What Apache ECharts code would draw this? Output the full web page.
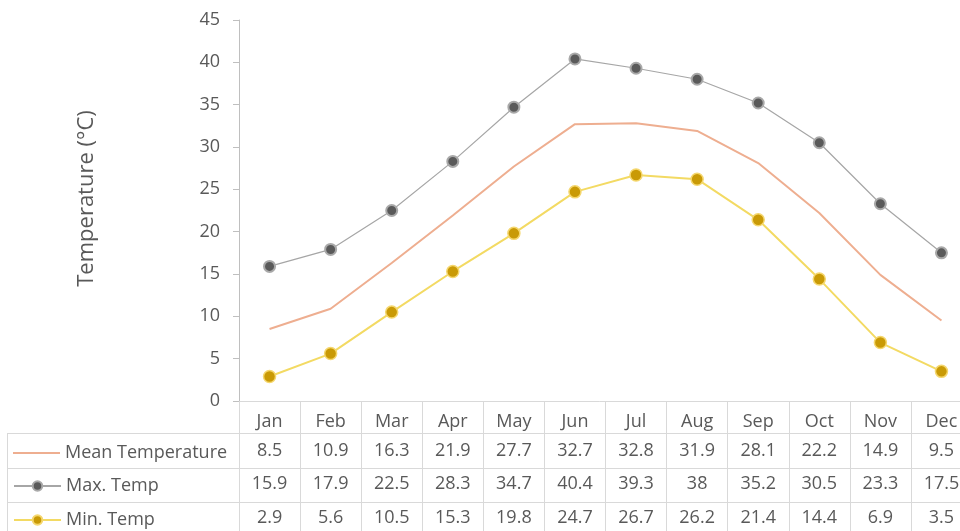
<!DOCTYPE html>
<html><head><meta charset="utf-8">
<script src="https://cdn.jsdelivr.net/npm/echarts@6/dist/echarts.min.js"></script>
<style>html,body{margin:0;padding:0;background:#fff}#c{width:960px;height:531px}</style>
</head><body><div id="c"></div>
<script>
const months = ['Jan','Feb','Mar','Apr','May','Jun','Jul','Aug','Sep','Oct','Nov','Dec'];
const meanTemp = [8.5,10.9,16.3,21.9,27.7,32.7,32.8,31.9,28.1,22.2,14.9,9.5];
const maxTemp = [15.9,17.9,22.5,28.3,34.7,40.4,39.3,38,35.2,30.5,23.3,17.5];
const minTemp = [2.9,5.6,10.5,15.3,19.8,24.7,26.7,26.2,21.4,14.4,6.9,3.5];
const seriesNames = ['Mean Temperature','Max. Temp','Min. Temp'];

const FONT = 'Open Sans';
const TXT = '#595959';
const GRID_LINE = '#d9d9d9';
const TFS = 18;

function rowAxis(values, offset){
  return {
    type:'category', gridIndex:0, position:'bottom', offset:offset,
    data: values.map(v=>String(v)),
    axisLine:{show:false}, axisTick:{show:false},
    axisLabel:{color:TXT, fontSize:TFS, fontFamily:FONT, margin:9, interval:0}
  };
}
function legendRow(name, top, extra){
  return Object.assign({
    orient:'horizontal', left:8, top:top, itemWidth:47, itemHeight:12,
    textStyle:{color:TXT, fontSize:TFS, fontFamily:FONT},
    data:[name], selectedMode:false
  }, extra||{});
}

const chart = echarts.init(document.getElementById('c'));
const hl = (y)=>({type:'line', shape:{x1:7,y1:y,x2:975,y2:y}, style:{stroke:GRID_LINE, lineWidth:1}, silent:true});
chart.setOption({
  animation:false,
  grid:{left:239, top:20, width:733, height:381, containLabel:false, outerBoundsMode:'none'},
  legend:[
    legendRow(seriesNames[0], 439, {data:[{name:seriesNames[0], icon:'rect'}], itemHeight:2}),
    legendRow(seriesNames[1], 472),
    legendRow(seriesNames[2], 506)
  ],
  xAxis:[
    {
      type:'category', data:months, boundaryGap:true,
      axisLine:{show:true, lineStyle:{color:GRID_LINE}},
      axisTick:{show:true, length:135, lineStyle:{color:GRID_LINE}},
      axisLabel:{color:TXT, fontSize:TFS, fontFamily:FONT, margin:12, interval:0}
    },
    rowAxis(meanTemp, 32),
    rowAxis(maxTemp, 65),
    rowAxis(minTemp, 99)
  ],
  yAxis:{
    type:'value', min:0, max:45, interval:5,
    name:'Temperature (°C)', nameLocation:'middle', nameRotate:90, nameGap:141,
    nameTextStyle:{color:TXT, fontSize:22, fontFamily:FONT, padding:[0,0,0,24]},
    axisLine:{show:true, lineStyle:{color:'#bfbfbf'}},
    axisTick:{show:true, length:6, lineStyle:{color:'#bfbfbf'}},
    axisLabel:{color:TXT, fontSize:18, fontFamily:FONT, margin:19},
    splitLine:{show:false}
  },
  graphic:[
    hl(433.5), hl(468.5), hl(502.5),
    {type:'line', shape:{x1:7.5,y1:433,x2:7.5,y2:531}, style:{stroke:GRID_LINE, lineWidth:1}, silent:true}
  ],
  series:[
    {name:seriesNames[0], type:'line', data:meanTemp, symbol:'none',
     lineStyle:{color:'#eeae90', width:2}, itemStyle:{color:'#eeae90'}},
    {name:seriesNames[1], type:'line', data:maxTemp, symbol:'circle', symbolSize:11,
     lineStyle:{color:'#a6a6a6', width:1.2},
     itemStyle:{color:'#5a5a5a', borderColor:'#a9a9a9', borderWidth:2}},
    {name:seriesNames[2], type:'line', data:minTemp, symbol:'circle', symbolSize:12,
     lineStyle:{color:'#f3da63', width:2},
     itemStyle:{color:'#c99a06', borderColor:'#f5d76e', borderWidth:1.5}}
  ]
});
</script></body></html>
